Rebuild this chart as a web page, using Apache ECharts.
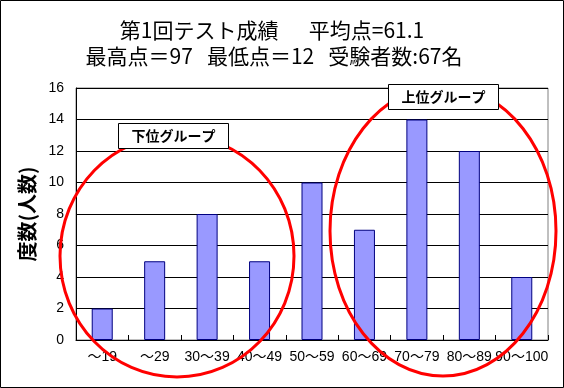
<!DOCTYPE html>
<html>
<head>
<meta charset="utf-8">
<script src="https://cdn.jsdelivr.net/npm/echarts@6/dist/echarts.min.js"></script>
<style>
html,body{margin:0;padding:0;background:#fff;}
#c{width:564px;height:388px;}
</style>
</head>
<body>
<div id="c"></div>
<script>
const categories = ['～19', '～29', '30～39', '40～49', '50～59', '60～69', '70～79', '80～89', '90～100'];
const counts = [2, 5, 8, 5, 10, 7, 14, 12, 4];
const yTicks = [0, 2, 4, 6, 8, 10, 12, 14, 16];
const titleLines = ['第1回テスト成績　  平均点=61.1', '最高点＝97   最低点＝12   受験者数:67名'];
const yName = '度数(人数)';
const groupLabels = ['下位グループ', '上位グループ'];

const font = '"Noto Sans CJK JP", "Liberation Sans", sans-serif';
const latinFont = '"Liberation Sans", "Noto Sans CJK JP", sans-serif';
const chart = echarts.init(document.getElementById('c'), null, {renderer: 'canvas'});

chart.setOption({
  animation: false,
  backgroundColor: '#fff',
  grid: {left: 76, right: 16, top: 88, bottom: 48, show: true, borderColor: '#808080', borderWidth: 1, backgroundColor: 'transparent'},
  xAxis: {
    type: 'category',
    data: categories,
    axisLine: {lineStyle: {color: '#000', width: 1}},
    axisTick: {show: true, inside: true, length: 5, lineStyle: {color: '#000'}},
    axisLabel: {interval: 0, color: '#000', fontSize: 14, fontFamily: latinFont, margin: 10, hideOverlap: false}
  },
  yAxis: {
    type: 'value',
    min: yTicks[0],
    max: yTicks[yTicks.length - 1],
    interval: 2,
    name: yName,
    nameLocation: 'middle',
    nameRotate: 90,
    nameGap: 33,
    nameTextStyle: {fontSize: 20, fontWeight: 'bold', color: '#000', fontFamily: font},
    axisLine: {show: true, lineStyle: {color: '#000', width: 1}},
    axisTick: {show: false},
    axisLabel: {color: '#000', fontSize: 14, fontFamily: latinFont, margin: 12},
    splitLine: {show: true, lineStyle: {color: '#000', width: 1}}
  },
  series: [{
    type: 'bar',
    data: counts,
    barWidth: 21,
    itemStyle: {color: '#9999ff', borderColor: '#000080', borderWidth: 1},
    z: 2
  }],
  graphic: [
    {type: 'rect', shape: {x: 0.5, y: 0.5, width: 563, height: 387}, style: {fill: 'none', stroke: '#000', lineWidth: 1}, z: 100},
    {type: 'text', style: {text: titleLines[0], x: 272, y: 30, textAlign: 'center', textVerticalAlign: 'middle', font: '21px ' + font, fill: '#000'}, z: 100},
    {type: 'text', style: {text: titleLines[1], x: 274, y: 56, textAlign: 'center', textVerticalAlign: 'middle', font: '21px ' + font, fill: '#000'}, z: 100},
    {type: 'ellipse', shape: {cx: 177, cy: 256, rx: 117, ry: 121}, style: {fill: 'none', stroke: '#ff0000', lineWidth: 3}, z: 50},
    {type: 'ellipse', shape: {cx: 443, cy: 231, rx: 113, ry: 145}, style: {fill: 'none', stroke: '#ff0000', lineWidth: 3}, z: 50},
    {type: 'rect', shape: {x: 118.5, y: 123.5, width: 110, height: 25}, style: {fill: '#fff', stroke: '#000', lineWidth: 1}, z: 60},
    {type: 'text', style: {text: groupLabels[0], x: 173.5, y: 136, textAlign: 'center', textVerticalAlign: 'middle', font: 'bold 14px ' + font, fill: '#000'}, z: 61},
    {type: 'rect', shape: {x: 388.5, y: 84.5, width: 110, height: 25}, style: {fill: '#fff', stroke: '#000', lineWidth: 1}, z: 60},
    {type: 'text', style: {text: groupLabels[1], x: 443.5, y: 97, textAlign: 'center', textVerticalAlign: 'middle', font: 'bold 14px ' + font, fill: '#000'}, z: 61}
  ]
});
</script>
</body>
</html>
